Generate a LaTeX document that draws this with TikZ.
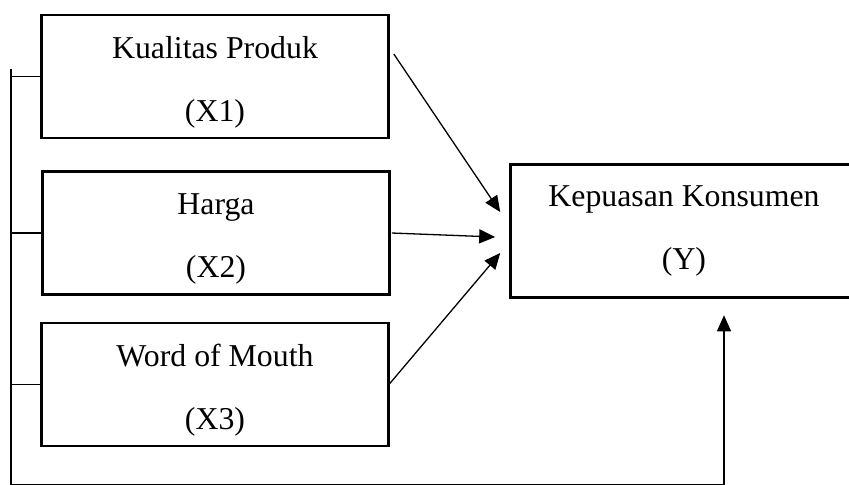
\documentclass[tikz,border=0pt]{standalone}
\usepackage{fontspec}
\setmainfont{Liberation Serif}
\usetikzlibrary{arrows.meta,calc}
\newcommand\spasi{\rule{0pt}{16.5pt}}
\tikzset{
  kotak/.style={draw, line width=1.3pt, minimum width=173.5pt,
    minimum height=61.5pt, align=center, inner sep=0pt,
    font=\fontsize{15.9}{31.5}\selectfont},
  garis/.style={line width=0.65pt},
  panah/.style={garis, -{Triangle[length=8pt,width=7pt]}},
}
\begin{document}
\begin{tikzpicture}[x=0.5pt, y=-0.5pt]
  \clip (0,0) rectangle (849,484);

  % variabel bebas
  \node[kotak] (kualitas) at (215,76.5) {\spasi Kualitas Produk\\(X1)};
  \node[kotak] (harga) at (216,233) {\spasi Harga\\(X2)};
  \node[kotak] (wom) at (215,384.5) {\spasi Word of Mouth\\(X3)};

  % variabel terikat
  \node[kotak, minimum height=66.5pt] (kepuasan) at (684,231) {Kepuasan Konsumen\\(Y)};

  % panah ke Y
  \draw[panah] ($(kualitas.east)+(4,-22.5)$) -- ($(kepuasan.west)+(-9,-19)$);
  \draw[panah] ($(harga.east)+(1,0)$) -- ($(kepuasan.west)+(-14,6)$);
  \draw[panah] ($(wom.east)+(0,-1)$) -- ($(kepuasan.west)+(-9,22)$);

  % garis simultan
  \coordinate (atas) at (11,69);
  \coordinate (bawah) at (11,484.3);
  \coordinate (ujung) at ($(kepuasan.south)+(40,16.5)$);
  \draw[garis] (kualitas.west) -- (kualitas.west -| atas);
  \draw[garis] (harga.west) -- (harga.west -| atas);
  \draw[garis] (wom.west) -- (wom.west -| atas);
  \draw[panah] (atas) -- (bawah) -| (ujung);
\end{tikzpicture}
\end{document}
